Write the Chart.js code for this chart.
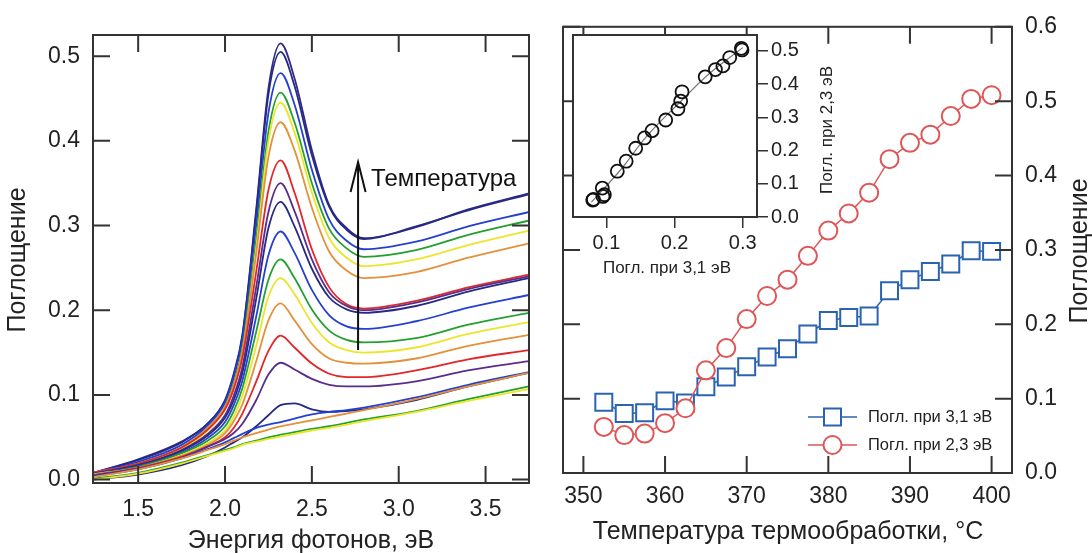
<!DOCTYPE html>
<html><head><meta charset="utf-8">
<script src="https://cdn.jsdelivr.net/npm/chart.js@4.4.1/dist/chart.umd.min.js"></script>
<style>
html,body{margin:0;padding:0;background:#fff;}
#wrap{position:relative;width:1092px;height:553px;overflow:hidden;background:#fff;}
canvas{position:absolute;}
#c1{left:0;top:0;}
#c2{left:545px;top:0;}
#c3{left:560px;top:20px;}
</style></head><body>
<div id="wrap">
<canvas id="c1" width="545" height="553"></canvas>
<canvas id="c2" width="547" height="553"></canvas>
<canvas id="c3" width="300" height="270"></canvas>
</div>
<script>
// ---------------- DATA ----------------
const energy = [1.24,1.5,1.75,1.9,2.0,2.05,2.1,2.18,2.25,2.32,2.4,2.5,2.6,2.7,2.8,3.1,3.4,3.75];
const temps = [352.5,355,357.5,360,362.5,365,367.5,370,372.5,375,377.5,380,382.5,385,387.5,390,392.5,395,397.5,400];
const abs31 = [0.095,0.080,0.081,0.097,0.094,0.116,0.129,0.143,0.156,0.167,0.187,0.205,0.209,0.211,0.245,0.260,0.271,0.281,0.299,0.298];
const abs23 = [0.062,0.051,0.053,0.067,0.087,0.138,0.168,0.207,0.238,0.260,0.292,0.326,0.349,0.377,0.422,0.444,0.455,0.480,0.503,0.508];

const spec352_5 = [.003,.012,.025,.035,.042,.046,.050,.055,.059,.063,.066,.070,.074,.078,.082,.095,.110,.126];
const spec355   = [.000,.007,.019,.028,.034,.037,.041,.045,.048,.051,.054,.058,.061,.065,.069,.080,.093,.107];
const spec357_5 = [.001,.008,.020,.029,.035,.038,.042,.046,.050,.053,.056,.060,.063,.067,.071,.081,.095,.110];
const spec360   = [.004,.012,.025,.036,.044,.049,.054,.061,.065,.068,.072,.077,.080,.082,.085,.097,.112,.127];
const spec362_5 = [.000,.006,.017,.028,.038,.044,.050,.063,.076,.088,.090,.083,.080,.081,.083,.094,.110,.126];
const spec365   = [.005,.013,.026,.039,.048,.055,.066,.094,.124,.138,.130,.119,.112,.110,.110,.116,.129,.140];
const spec367_5 = [.005,.014,.027,.039,.050,.061,.078,.116,.152,.170,.156,.137,.125,.121,.121,.129,.142,.153];
const spec370   = [.006,.014,.028,.041,.055,.069,.089,.140,.188,.208,.188,.160,.143,.138,.137,.143,.158,.171];
const spec372_5 = [.006,.014,.029,.043,.058,.074,.099,.158,.216,.238,.219,.185,.162,.153,.150,.156,.172,.186];
const spec375   = [.006,.015,.031,.046,.063,.081,.108,.175,.236,.260,.238,.201,.176,.165,.162,.167,.183,.197];
const spec377_5 = [.007,.016,.032,.049,.068,.088,.117,.193,.265,.293,.268,.224,.194,.181,.178,.187,.203,.218];
const spec380   = [.007,.017,.034,.052,.073,.094,.126,.214,.297,.328,.299,.249,.215,.201,.197,.205,.222,.238];
const spec382_5 = [.007,.017,.035,.054,.076,.099,.133,.228,.316,.350,.317,.260,.221,.205,.200,.209,.225,.240];
const spec385   = [.008,.019,.038,.059,.083,.107,.144,.246,.342,.377,.339,.272,.227,.207,.202,.211,.227,.242];
const spec387_5 = [.008,.019,.038,.061,.086,.112,.151,.268,.381,.422,.389,.321,.269,.247,.238,.245,.262,.279];
const spec390   = [.007,.018,.036,.058,.083,.109,.149,.274,.400,.445,.410,.339,.285,.262,.252,.260,.277,.294];
const spec392_5 = [.007,.019,.038,.061,.086,.114,.155,.284,.411,.457,.422,.350,.296,.273,.263,.271,.289,.306];
const spec395   = [.008,.021,.041,.064,.091,.121,.165,.302,.433,.480,.443,.366,.307,.282,.272,.281,.299,.316];
const spec397_5 = [.008,.023,.044,.066,.093,.123,.169,.316,.455,.505,.465,.383,.322,.295,.284,.299,.318,.337];
const spec400   = [.008,.024,.045,.066,.094,.125,.171,.320,.462,.515,.474,.389,.324,.297,.285,.298,.319,.338];

const spectra = [spec352_5,spec355,spec357_5,spec360,spec362_5,spec365,spec367_5,spec370,spec372_5,spec375,
                 spec377_5,spec380,spec382_5,spec385,spec387_5,spec390,spec392_5,spec395,spec397_5,spec400];

const leftXTicks = [1.5,2.0,2.5,3.0,3.5];
const leftYTicks = [0.0,0.1,0.2,0.3,0.4,0.5];
const rightXTicks = [350,360,370,380,390,400];
const rightYTicks = [0.0,0.1,0.2,0.3,0.4,0.5,0.6];
const insetXTicks = [0.1,0.2,0.3];
const insetYTicks = [0.0,0.1,0.2,0.3,0.4,0.5];
const insetFitX = [0.078,0.12,0.16,0.21,0.25,0.30];
const insetFitY = [0.045,0.140,0.245,0.350,0.430,0.510];

// ---------------- STYLE ----------------
const C = {navy:'#262a82', indigo:'#33298a', purple:'#5a2d8a', red:'#e2262a', orange:'#e3913a', yellow:'#ebe52c', green:'#23a02e', blue:'#2440cf'};
const lineColours = [C.orange,C.yellow,C.green,C.blue,C.navy,C.purple,C.red,C.orange,C.yellow,C.green,
                     C.blue,C.navy,C.purple,C.red,C.orange,C.yellow,C.green,C.blue,C.navy,C.indigo];
const FAM = "'Liberation Sans', Arial, Helvetica, sans-serif";
Chart.defaults.font.family = FAM;
Chart.defaults.color = '#222';
Chart.defaults.animation = false;

const AX = '#333';

function boxPlugin(cfg){
  return {id:'box'+Math.random().toString(36).slice(2),
    beforeDraw(chart){
      if(!cfg.fill) return;
      const a = chart.chartArea, ctx = chart.ctx;
      ctx.save(); ctx.fillStyle = cfg.fill; ctx.fillRect(a.left,a.top,a.right-a.left,a.bottom-a.top); ctx.restore();
    },
    afterDatasetsDraw(chart){
      const {ctx, chartArea:a, scales} = chart;
      ctx.save();
      ctx.strokeStyle = AX; ctx.lineWidth = cfg.width || 2;
      ctx.strokeRect(a.left, a.top, a.right-a.left, a.bottom-a.top);
      const L = cfg.tickLen || 0;
      if (L) {
        ctx.beginPath();
        scales.x.ticks.forEach(t=>{const p=scales.x.getPixelForValue(t.value);
          ctx.moveTo(p,a.bottom); ctx.lineTo(p,a.bottom-L);
          ctx.moveTo(p,a.top); ctx.lineTo(p,a.top+L);});
        scales.y.ticks.forEach(t=>{const p=scales.y.getPixelForValue(t.value);
          ctx.moveTo(a.left,p); ctx.lineTo(a.left+L,p);
          ctx.moveTo(a.right,p); ctx.lineTo(a.right-L,p);});
        ctx.stroke();
      }
      ctx.restore();
    }};
}
function textPlugin(items){
  return {id:'txt'+Math.random().toString(36).slice(2),
    afterDraw(chart){
      const ctx = chart.ctx;
      items.forEach(it=>{
        ctx.save();
        ctx.font = it.font; ctx.fillStyle = it.color || '#222';
        ctx.textAlign = it.align || 'center'; ctx.textBaseline = 'middle';
        ctx.translate(it.x, it.y); if (it.rot) ctx.rotate(it.rot);
        ctx.fillText(it.text, 0, 0);
        ctx.restore();
      });
    }};
}
const arrowPlugin = {id:'arrow',
  afterDatasetsDraw(chart){
    const {ctx, scales:{x,y}} = chart;
    const px = x.getPixelForValue(2.766), y0 = y.getPixelForValue(0.153), y1 = y.getPixelForValue(0.375);
    ctx.save(); ctx.strokeStyle='#111'; ctx.lineWidth=2;
    ctx.beginPath(); ctx.moveTo(px,y0); ctx.lineTo(px,y1);
    ctx.moveTo(px-7.5,y1+30); ctx.lineTo(px,y1); ctx.lineTo(px+7.5,y1+30); ctx.stroke();
    ctx.font = "24px "+FAM; ctx.fillStyle='#111'; ctx.textAlign='left'; ctx.textBaseline='middle';
    ctx.fillText('Температура', px+13, y.getPixelForValue(0.354));
    ctx.restore();
  }};

function fixedTicks(arr){ return s=>{ s.ticks = arr.map(v=>({value:v})); }; }

// ---------------- LEFT: spectra ----------------
new Chart(document.getElementById('c1'), {
  type:'line',
  data:{datasets: spectra.map((s,i)=>({
    label: temps[i]+' °C',
    data: energy.map((e,j)=>({x:e,y:s[j]})),
    borderColor: lineColours[i], borderWidth:1.8, pointRadius:0,
    cubicInterpolationMode:'monotone', fill:false}))},
  options:{responsive:false, animation:false, events:[],
    layout:{padding:{left:0,top:35,right:16,bottom:0}},
    plugins:{legend:{display:false}, tooltip:{enabled:false}},
    scales:{
      x:{type:'linear', min:1.24, max:3.75, afterBuildTicks:fixedTicks(leftXTicks),
         afterFit:s=>{s.height=70;},
         grid:{display:false, drawTicks:false}, border:{display:false},
         ticks:{font:{size:23}, padding:13, color:'#222', maxRotation:0, autoSkip:false, callback:v=>Number(v).toFixed(1)}},
      y:{type:'linear', min:-0.004, max:0.525, afterBuildTicks:fixedTicks(leftYTicks),
         afterFit:s=>{s.width=93;},
         grid:{display:false, drawTicks:false}, border:{display:false},
         ticks:{font:{size:23}, padding:13, color:'#222', autoSkip:false, callback:v=>Number(v).toFixed(1)}}
    }},
  plugins:[boxPlugin({tickLen:17}), arrowPlugin, textPlugin([
    {text:'Поглощение', x:18, y:260, rot:-Math.PI/2, font:'25px '+FAM},
    {text:'Энергия фотонов, эВ', x:311, y:541, font:'25px '+FAM}
  ])]
});

// ---------------- RIGHT: vs temperature ----------------
const BLUE = '#2b63b3', RED = '#de5656';
const legendPlugin = {id:'lg',
  afterDraw(chart){
    const ctx = chart.ctx;
    const rows = [{c:BLUE, t:'Погл. при 3,1 эВ', s:'rect', y:417},{c:RED, t:'Погл. при 2,3 эВ', s:'circle', y:445}];
    rows.forEach(r=>{
      ctx.save(); ctx.strokeStyle=r.c; ctx.lineWidth=1.5;
      ctx.beginPath(); ctx.moveTo(263,r.y); ctx.lineTo(312,r.y); ctx.stroke();
      ctx.fillStyle='#fff'; ctx.lineWidth=2;
      if (r.s==='rect'){ ctx.fillRect(279,r.y-8.5,17,17); ctx.strokeRect(279,r.y-8.5,17,17); }
      else { ctx.beginPath(); ctx.arc(287.5,r.y,9,0,Math.PI*2); ctx.fill(); ctx.stroke(); }
      ctx.fillStyle='#222'; ctx.font='16.5px '+FAM; ctx.textAlign='left'; ctx.textBaseline='middle';
      ctx.fillText(r.t, 323, r.y);
      ctx.restore();
    });
  }};
new Chart(document.getElementById('c2'), {
  type:'line',
  data:{datasets:[
    {label:'Погл. при 3,1 эВ', data: temps.map((t,i)=>({x:t,y:abs31[i]})), order:1,
     borderColor:BLUE, borderWidth:1.5, pointStyle:'rect', pointRadius:12, pointBorderWidth:2,
     pointBackgroundColor:'#fff', pointBorderColor:BLUE, tension:0},
    {label:'Погл. при 2,3 эВ', data: temps.map((t,i)=>({x:t,y:abs23[i]})), order:0,
     borderColor:RED, borderWidth:1.5, pointStyle:'circle', pointRadius:9, pointBorderWidth:2,
     pointBackgroundColor:'#fff', pointBorderColor:RED, tension:0}
  ]},
  options:{responsive:false, animation:false, events:[],
    layout:{padding:{left:18,top:24,right:0,bottom:0}},
    plugins:{legend:{display:false}, tooltip:{enabled:false}},
    scales:{
      x:{type:'linear', min:347.5, max:402.5, afterBuildTicks:fixedTicks(rightXTicks),
         afterFit:s=>{s.height=80;},
         grid:{display:false, drawTicks:false}, border:{display:false},
         ticks:{font:{size:23}, padding:10, color:'#222', maxRotation:0, autoSkip:false, callback:v=>String(v)}},
      y:{type:'linear', position:'right', min:0, max:0.6, afterBuildTicks:fixedTicks(rightYTicks),
         afterFit:s=>{s.width=80;},
         grid:{display:false, drawTicks:false}, border:{display:false},
         ticks:{font:{size:23}, padding:13, color:'#222', autoSkip:false, callback:v=>Number(v).toFixed(1)}}
    }},
  plugins:[boxPlugin({tickLen:17}), legendPlugin, textPlugin([
    {text:'Температура термообработки, °C', x:243, y:532, font:'25px '+FAM},
    {text:'Поглощение', x:535, y:251, rot:-Math.PI/2, font:'25px '+FAM}
  ])]
});

// ---------------- INSET ----------------
new Chart(document.getElementById('c3'), {
  type:'scatter',
  data:{datasets:[
    {label:'fit', data: insetFitX.map((x,i)=>({x:x,y:insetFitY[i]})), showLine:true, pointRadius:0,
     borderColor:'#777', borderWidth:1.2, tension:0.4, order:1},
    {label:'pts', data: abs31.map((x,i)=>({x:x,y:abs23[i]})), pointRadius:6.5, pointBorderWidth:1.8,
     pointBorderColor:'#111', pointBackgroundColor:'rgba(0,0,0,0)', order:0}
  ]},
  options:{responsive:false, animation:false, events:[],
    layout:{padding:{left:13,top:13,right:0,bottom:0}},
    plugins:{legend:{display:false}, tooltip:{enabled:false}},
    scales:{
      x:{type:'linear', min:0.051, max:0.321, afterBuildTicks:fixedTicks(insetXTicks),
         afterFit:s=>{s.height=73;},
         grid:{drawOnChartArea:false, drawTicks:true, tickLength:11, color:AX, lineWidth:1.5}, border:{display:false},
         ticks:{font:{size:20}, padding:3, color:'#222', maxRotation:0, autoSkip:false, callback:v=>Number(v).toFixed(1)}},
      y:{type:'linear', position:'right', min:0, max:0.548, afterBuildTicks:fixedTicks(insetYTicks),
         afterFit:s=>{s.width=103;},
         grid:{drawOnChartArea:false, drawTicks:true, tickLength:11, color:AX, lineWidth:1.5}, border:{display:false},
         ticks:{font:{size:20}, padding:3, color:'#222', autoSkip:false, callback:v=>Number(v).toFixed(1)}}
    }},
  plugins:[boxPlugin({tickLen:0, fill:'#fff', width:2}), textPlugin([
    {text:'Погл. при 3,1 эВ', x:107, y:248, font:'17px '+FAM},
    {text:'Погл. при 2,3 эВ', x:267, y:110, rot:-Math.PI/2, font:'17px '+FAM}
  ])]
});
</script>
</body></html>
